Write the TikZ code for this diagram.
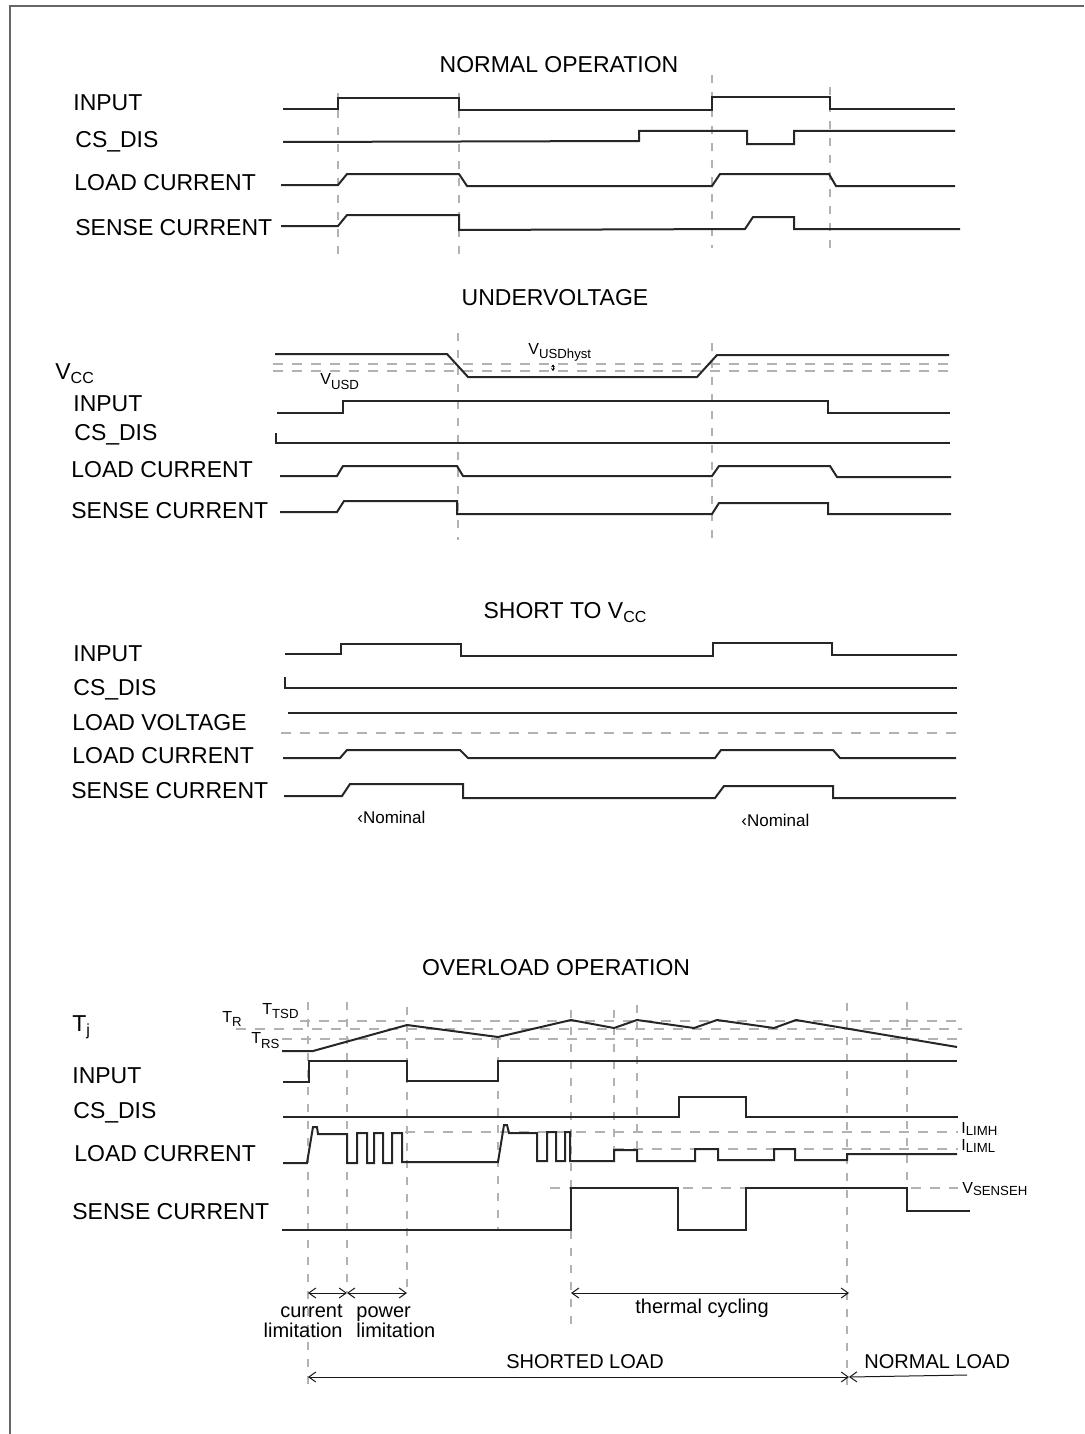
\documentclass[tikz,border=0pt]{standalone}
\usepackage{fontspec}
\setmainfont{Liberation Sans}
\usepackage{graphicx}
\usetikzlibrary{arrows.meta}
\newcommand\bsb[2]{\raisebox{-#1}{\fontsize{8}{9}\selectfont #2}}
\newcommand\ssb[2]{\raisebox{-#1}{\fontsize{6.6}{7}\selectfont #2}}
\begin{document}
\begin{tikzpicture}[x=0.5pt,y=-0.5pt,
  sig/.style={line width=1pt,draw=black!85,line join=miter},
  hg/.style={draw=black!30,line width=0.55pt,dash pattern=on 5pt off 4.5pt},
  vg/.style={draw=black!30,line width=0.55pt,dash pattern=on 4pt off 4.5pt},
  lab/.style={inner sep=0pt,anchor=base west,font=\fontsize{11.5}{13}\selectfont},
  ttl/.style={inner sep=0pt,anchor=base,font=\fontsize{11.5}{13}\selectfont},
  sml/.style={inner sep=0pt,anchor=base west,font=\fontsize{8}{9}\selectfont},
  nom/.style={inner sep=0pt,anchor=base west,font=\fontsize{8.5}{10}\selectfont},
  ann/.style={inner sep=0pt,font=\fontsize{10}{12}\selectfont},
  dimarr/.style={line width=0.5pt,draw=black!90,{Straight Barb[length=3.5pt,width=5pt]}-{Straight Barb[length=3.5pt,width=5pt]}},
  lftarr/.style={line width=0.5pt,draw=black!90,{Straight Barb[length=3.5pt,width=5pt]}-}
]
\useasboundingbox (0,0) rectangle (1084,1434);
% frame
\draw[draw=black!60,line width=0.8pt] (1084,6) -- (10,6) -- (10,1434);

%================ NORMAL OPERATION ================
\node[ttl] (t1) at (559,73) {NORMAL OPERATION};
\node[lab] (n1) at (73,111) {INPUT};
\node[lab] (n2) at (75,148) {CS\_DIS};
\node[lab] (n3) at (74,191) {LOAD CURRENT};
\node[lab] (n4) at (75,235) {SENSE CURRENT};
\draw[vg] (338,93) -- (338,255);
\draw[vg] (459,93) -- (459,255);
\draw[vg] (712,75) -- (712,248);
\draw[vg] (830,87) -- (830,248);
\draw[sig] (283,109)--(338,109)--(338,98)--(459,98)--(459,110)--(712,110)--(712,97)--(830,97)--(830,109)--(955,109);
\draw[sig] (283,142)--(639,141)--(639,131)--(747,131)--(747,144)--(794,144)--(794,131)--(955,131);
\draw[sig] (281,185)--(338,185)--(347,174)--(459,174)--(467,186)--(712,186)--(720,174)--(829,174)--(836,186)--(955,186);
\draw[sig] (281,226)--(338,226)--(347,215)--(459,215)--(459,230)--(745,229)--(753,217)--(794,217)--(794,229)--(960,229);

%================ UNDERVOLTAGE ================
\node[ttl] (t2) at (555,305) {UNDERVOLTAGE};
\node[lab] (u0) at (55,379) {V\bsb{2pt}{CC}};
\node[lab] (u1) at (73,411) {INPUT};
\node[lab] (u2) at (74,440) {CS\_DIS};
\node[lab] (u3) at (71,477) {LOAD CURRENT};
\node[lab] (u4) at (71,518) {SENSE CURRENT};
\draw[hg] (273,364) -- (949,364);
\draw[hg] (273,371) -- (949,371);
\draw[vg] (458,333) -- (458,540);
\draw[vg] (712,343) -- (712,540);
\draw[line width=0.4pt,{Stealth[length=1.4pt,width=2pt]}-{Stealth[length=1.4pt,width=2pt]}] (553,364.5) -- (553,371);
\node[sml] (uvh) at (528,354) {V\ssb{2.2pt}{USDhyst}};
\node[sml] (uvs) at (320,384) {V\ssb{2.5pt}{USD}};
\draw[sig] (275,354)--(447,354)--(468,377)--(697,377)--(717,355)--(949,355);
\draw[sig] (277,413)--(343,413)--(343,401)--(828,401)--(828,413)--(950,413);
\draw[sig] (276,433)--(276,443)--(950,443);
\draw[sig] (280,476)--(337,476)--(343,466)--(457,466)--(463,476)--(712,476)--(719,466)--(830,466)--(837,477)--(951,477);
\draw[sig] (280,512)--(337,512)--(344,501)--(457,501)--(457,514)--(712,514)--(719,503)--(828,503)--(828,514)--(951,514);

%================ SHORT TO VCC ================
\node[ttl] (t3) at (565,618) {SHORT TO V\bsb{2pt}{CC}};
\node[lab] (s1) at (73,661) {INPUT};
\node[lab] (s2) at (73,695) {CS\_DIS};
\node[lab] (s3) at (72,730) {LOAD VOLTAGE};
\node[lab] (s4) at (72,763) {LOAD CURRENT};
\node[lab] (s5) at (71,798) {SENSE CURRENT};
\draw[hg] (281,733) -- (957,733);
\draw[sig] (285,654)--(341,654)--(341,644)--(461,644)--(461,656)--(713,656)--(713,643)--(832,643)--(832,655)--(957,655);
\draw[sig] (285,677)--(285,688)--(957,688);
\draw[sig] (288,713)--(957,713);
\draw[sig] (283,758)--(340,758)--(347,750)--(460,750)--(468,758)--(715,758)--(721,750)--(833,750)--(840,758)--(956,758);
\draw[sig] (284,796)--(342,796)--(350,784)--(463,784)--(463,798)--(715,798)--(724,786)--(833,786)--(833,798)--(956,798);
\node[nom] (nm1) at (357,823) {‹Nominal};
\node[nom] (nm2) at (741,826.5) {‹Nominal};

%================ OVERLOAD OPERATION ================
\node[ttl] (t4) at (556,975) {OVERLOAD OPERATION};
\node[lab] (o0) at (72,1031) {T\bsb{2pt}{j}};
\node[lab] (o1) at (72,1083) {INPUT};
\node[lab] (o2) at (73,1118) {CS\_DIS};
\node[lab] (o3) at (74,1161) {LOAD CURRENT};
\node[lab] (o4) at (72,1219) {SENSE CURRENT};
\node[sml] (otr) at (222,1022) {T\ssb{2pt}{R}};
\node[sml] (otsd) at (262,1014) {T\ssb{2.2pt}{TSD}};
\node[sml] (otrs) at (251,1043) {T\ssb{2.5pt}{RS}};
\node[sml] (olh) at (961,1133) {I\ssb{1.3pt}{LIMH}};
\node[sml] (oll) at (961,1150) {I\ssb{1.3pt}{LIML}};
\node[sml] (ovs) at (962,1193) {V\ssb{1pt}{SENSEH}};
% horizontal guides
\draw[hg] (300,1021) -- (962,1021);
\draw[hg] (236,1029) -- (962,1029);
\draw[hg] (282,1039) -- (962,1039);
\draw[hg] (405,1132) -- (958,1132);
\draw[hg] (614,1149) -- (958,1149);
\draw[hg] (550,1188) -- (958,1188);
% vertical guides
\draw[vg] (308,1002) -- (308,1385);
\draw[vg] (347,1002) -- (347,1292);
\draw[vg] (407,1007) -- (407,1292);
\draw[vg] (498,1040) -- (498,1230);
\draw[vg] (571,1010) -- (571,1327);
\draw[vg] (614,1010) -- (614,1150);
\draw[vg] (637,1005) -- (637,1150);
\draw[vg] (847,1003) -- (847,1385);
\draw[vg] (907,1002) -- (907,1190);
% signals
\draw[sig] (282,1051)--(313,1051)--(407,1025)--(498,1037)--(571,1020)--(614,1028)--(637,1020)--(694,1028)--(717,1020)--(774,1028)--(796,1020)--(957,1047);
\draw[sig] (283,1082)--(309,1082)--(309,1061)--(407,1061)--(407,1081)--(498,1081)--(498,1061)--(957,1061);
\draw[sig] (283,1117)--(679,1117)--(679,1097)--(746,1097)--(746,1117)--(958,1117);
\draw[sig] (283,1163)--(307,1163)--(313,1127)--(317,1127)--(318,1134)--(347,1134)--(347,1163)--(357,1163)--(357,1133)--(367,1133)--(367,1163)--(374,1163)--(374,1133)--(383,1133)--(383,1163)--(392,1163)--(392,1133)--(402,1133)--(402,1162)--(498,1162)--(504,1125)--(507,1125)--(509,1133)--(537,1133)--(537,1161)--(547,1161)--(547,1132)--(556,1132)--(556,1161)--(565,1161)--(565,1132)--(570,1132)--(570,1161)--(614,1161)--(614,1150)--(637,1150)--(637,1161)--(695,1161)--(695,1149)--(718,1149)--(718,1160)--(774,1160)--(774,1149)--(795,1149)--(795,1160)--(847,1160)--(847,1154)--(957,1154);
\draw[sig] (282,1230)--(571,1230)--(571,1188)--(678,1188)--(678,1230)--(746,1230)--(746,1188)--(907,1188)--(907,1211)--(970,1211);

% annotations
\coordinate (a1) at (308,1293);
\coordinate (a2) at (347,1293);
\coordinate (a3) at (407,1293);
\coordinate (a4) at (571,1293);
\coordinate (a5) at (849,1293);
\coordinate (b1) at (308,1377);
\coordinate (b2) at (849,1377);
\coordinate (b3) at (967,1375);
\draw[dimarr] (a1) -- (a2);
\draw[dimarr] (a2) -- (a3);
\draw[dimarr] (a4) -- (a5);
\draw[dimarr] (b1) -- (b2);
\draw[lftarr] (b2) -- (b3);
\node[ann,anchor=base east] (c1) at (343,1317) {current};
\node[ann,anchor=base east] (c2) at (343,1337) {limitation};
\node[ann,anchor=base west] (p1) at (356,1317) {power};
\node[ann,anchor=base west] (p2) at (356,1337) {limitation};
\node[ann,anchor=base] (tc) at (702,1313) {thermal cycling};
\node[ann,anchor=base] (sl) at (585,1368) {SHORTED LOAD};
\node[ann,anchor=base west] (nl) at (864,1368) {NORMAL LOAD};
\end{tikzpicture}
\end{document}
